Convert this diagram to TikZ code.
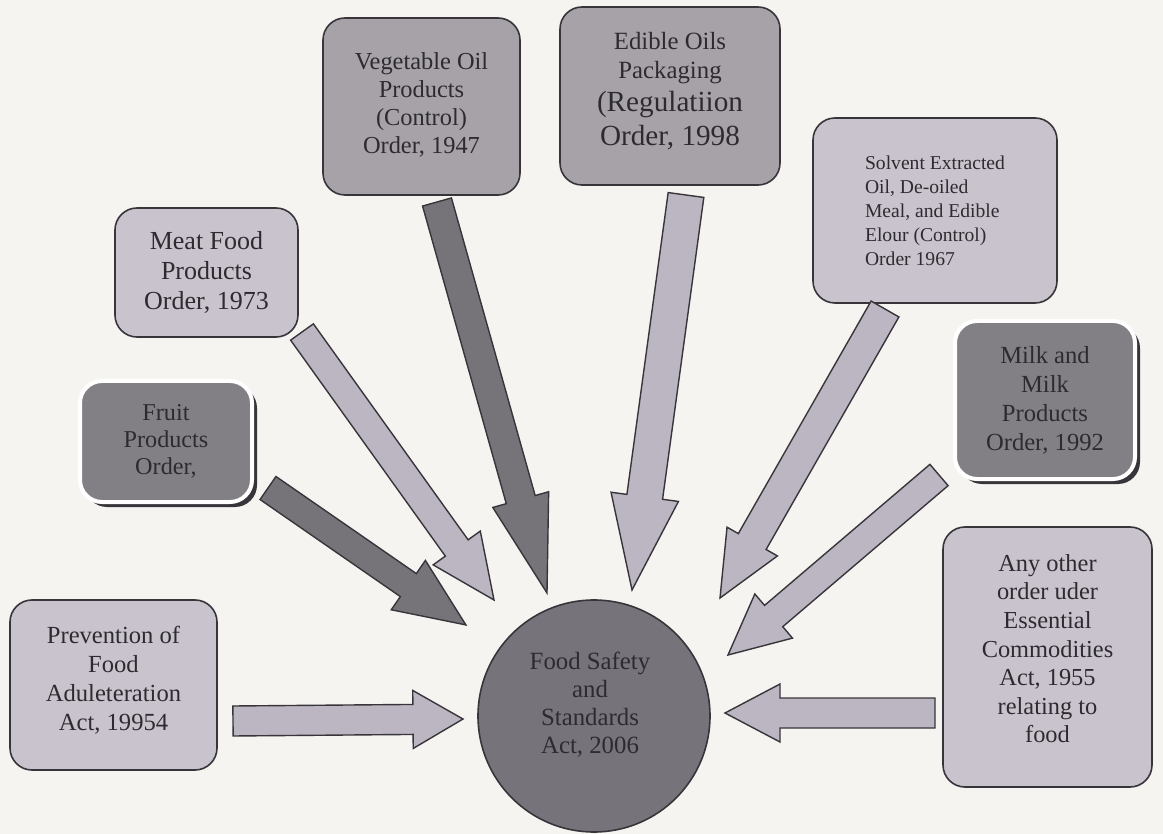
\documentclass[tikz,border=0pt]{standalone}
\usepackage{fontspec}
\setmainfont{Liberation Serif}
\usetikzlibrary{calc}

\definecolor{paper}{RGB}{245,244,241}
\definecolor{lightgrey}{RGB}{201,195,205}
\definecolor{midgrey}{RGB}{166,162,168}
\definecolor{darkgrey}{RGB}{130,128,132}
\definecolor{ballgrey}{RGB}{118,116,122}
\definecolor{inkgrey}{RGB}{45,43,48}
\definecolor{edgegrey}{RGB}{55,53,58}
\definecolor{lightarrow}{RGB}{188,182,194}
\definecolor{darkarrow}{RGB}{118,116,120}

\tikzset{shaftw/.store in=\shaftw, shaftw=7.5pt,
  headw/.store in=\headw, headw=14.5pt}

% block arrow from #3 (tail) to #4 (tip), #1 = length of the head
\newcommand{\blockarrow}[4][30pt]{%
  \path (#3); \pgfgetlastxy{\ax}{\ay}%
  \path (#4); \pgfgetlastxy{\bx}{\by}%
  \pgfmathsetmacro{\ang}{atan2(\by-\ay,\bx-\ax)}%
  \pgfmathsetmacro{\len}{veclen(\bx-\ax,\by-\ay)}%
  \begin{scope}[shift={(#3)}, rotate=\ang]
    \draw[arrowbody,#2] (0pt,-\shaftw) -- (\len pt-#1,-\shaftw) -- (\len pt-#1,-\headw)
      -- (\len pt,0pt) -- (\len pt-#1,\headw) -- (\len pt-#1,\shaftw) -- (0pt,\shaftw) -- cycle;
  \end{scope}}

\begin{document}
\begin{tikzpicture}[x=0.5pt, y=-0.5pt,
  % 1 unit = 1 pixel of the 1163x834 page, y going down
  box/.style={rounded corners=11pt, draw=edgegrey, line width=0.8pt, fill=lightgrey,
    align=center, text=inkgrey, inner sep=0pt, font=\fontsize{12.3}{14.5}\selectfont},
  raised/.style={box, fill=darkgrey, draw=white, line width=2pt,
    preaction={fill=edgegrey, transform canvas={shift={(2.5pt,-2.5pt)}}}},
  ball/.style={circle, draw=edgegrey, line width=0.8pt, fill=ballgrey, minimum size=116pt, inner sep=0pt},
  balltext/.style={align=center, text=inkgrey, font=\fontsize{12.4}{14}\selectfont},
  arrowbody/.style={draw=edgegrey, line width=0.7pt, fill=lightarrow, line join=miter},
  heavy/.style={fill=darkarrow}]
\useasboundingbox[fill=paper] (0,0) rectangle (1163,834);

% the act in the middle
\node[ball] (law) at (594,716) {};
\node[balltext] (lawtext) at ($(law.center)+(-4,-11)$) {Food Safety\\and\\Standards\\Act, 2006};

% top row
\node[box, fill=midgrey, font=\fontsize{12.2}{14}\selectfont, minimum width=98.5pt, minimum height=88.5pt]
  (vegoil) at (421.5,106.5) {Vegetable Oil\\Products\\(Control)\\Order, 1947\\[-11pt]};
\node[box, fill=midgrey, minimum width=110pt, minimum height=89pt] (edible) at (670,96)
  {{\fontsize{12.4}{14.5}\selectfont Edible Oils}\\{\fontsize{12.4}{14.5}\selectfont Packaging}\\[2pt]
   {\fontsize{14.6}{16.5}\selectfont (Regulatiion}\\[2.5pt]{\fontsize{14.6}{16.5}\selectfont Order, 1998}\\[-7pt]};
\node[box, align=left, font=\fontsize{9.8}{12}\selectfont, minimum width=122pt, minimum height=92.5pt]
  (solvent) at (935,210.5) {Solvent Extracted\\Oil, De-oiled\\Meal, and Edible\\Elour (Control)\\Order 1967};

% left side
\node[box, font=\fontsize{13}{15}\selectfont, minimum width=91.5pt, minimum height=64.5pt]
  (meat) at (206.5,272.5) {Meat Food\\Products\\Order, 1973};
\node[raised, font=\fontsize{12.1}{13.5}\selectfont, minimum width=86pt, minimum height=60.5pt]
  (fruit) at (166,441.5) {Fruit\\Products\\Order,};
\node[box, minimum width=103.5pt, minimum height=85pt] (pfa) at (113.5,685)
  {Prevention of\\Food\\Aduleteration\\Act, 19954\\[-8pt]};

% right side
\node[raised, minimum width=90pt, minimum height=79pt] (milk) at (1045,400)
  {Milk and\\Milk\\Products\\Order, 1992};
\node[box, font=\fontsize{12.2}{14.3}\selectfont, minimum width=104.5pt, minimum height=130pt]
  (ecact) at (1047.5,657) {Any other\\order uder\\Essential\\Commodities\\Act, 1955\\relating to\\food\\[-6pt]};

% ends of the arrows
\coordinate (vegoilT) at (437,202);   \coordinate (vegoilH) at (547,593);
\coordinate (edibleT) at (686,195);   \coordinate (edibleH) at (632,590);
\coordinate (meatT) at (302,332);     \coordinate (meatH) at (494,600);
\coordinate (fruitT) at (268,488);    \coordinate (fruitH) at (466,625);
\coordinate (pfaT) at (233,721);      \coordinate (pfaH) at (463,719);
\coordinate (solventT) at (885,309);  \coordinate (solventH) at (720,598);
\coordinate (milkT) at (939,475);     \coordinate (milkH) at (728,655);
\coordinate (ecactT) at (935,713);    \coordinate (ecactH) at (725,713);

\blockarrow[48.5pt]{heavy, shaftw=7.5pt, headw=14.5pt}{vegoilT}{vegoilH}
\blockarrow[47pt]{shaftw=9pt, headw=17pt}{edibleT}{edibleH}
\blockarrow[32pt]{shaftw=7pt}{meatT}{meatH}
\blockarrow[35pt]{heavy, shaftw=7pt, headw=15pt}{fruitT}{fruitH}
\blockarrow[25pt]{}{pfaT}{pfaH}
\blockarrow[32.5pt]{shaftw=8pt}{solventT}{solventH}
\blockarrow[30pt]{shaftw=7pt}{milkT}{milkH}
\blockarrow[27.5pt]{}{ecactT}{ecactH}
\end{tikzpicture}
\end{document}
